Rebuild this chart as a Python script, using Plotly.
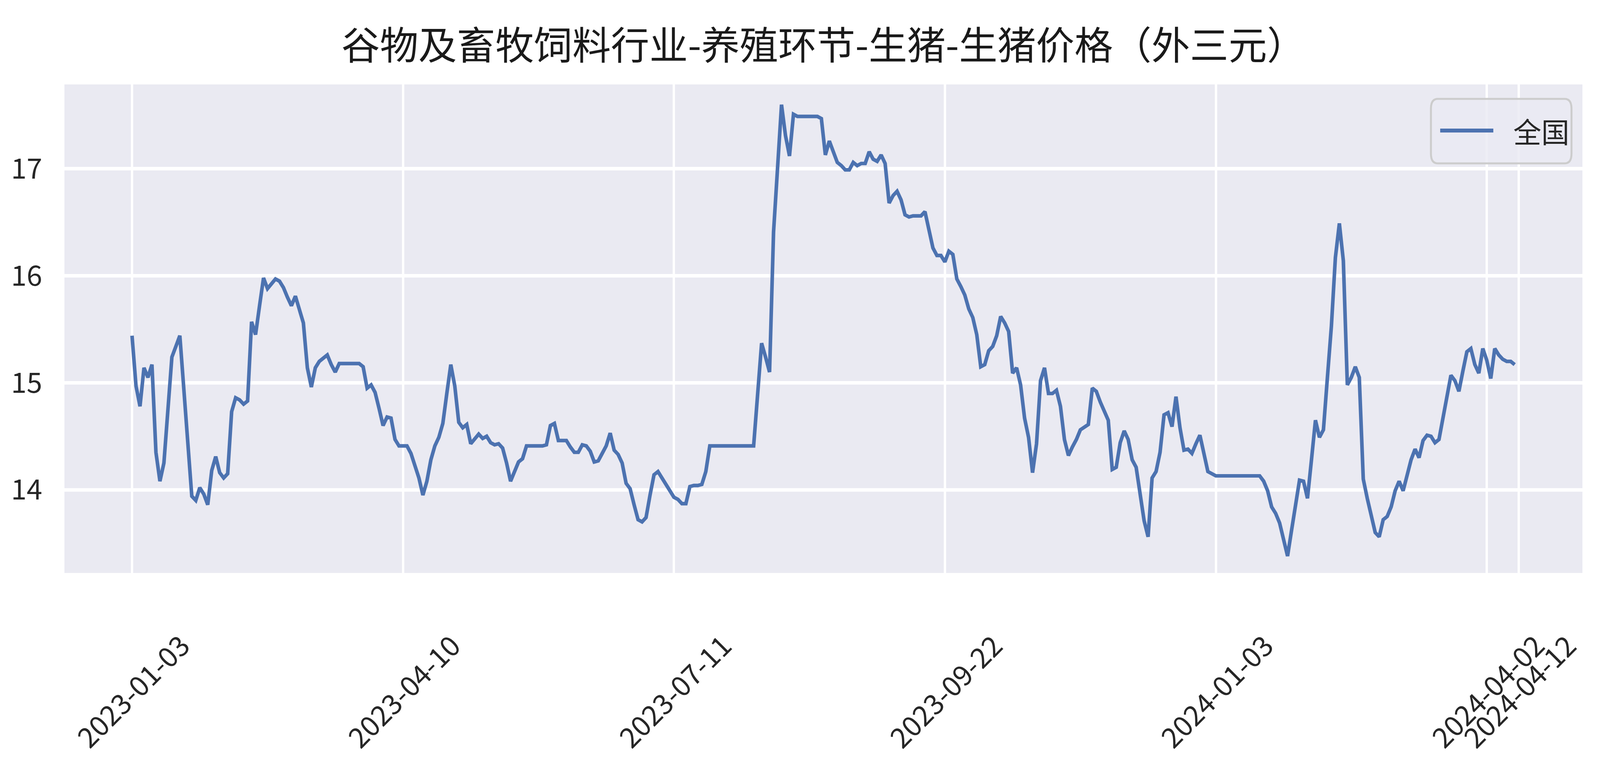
import plotly.graph_objects as go

# 全国 外三元生猪价格（按数据点顺序，从 2023-01-03 到 2024-04-12）
PRICES = [
    15.44, 14.97, 14.78, 15.14, 15.05, 15.17, 14.35, 14.08, 14.25, 14.70,
    15.24, 15.34, 15.44, 14.94, 14.43, 13.94, 13.90, 14.02, 13.96, 13.86,
    14.18, 14.31, 14.16, 14.11, 14.15, 14.73, 14.86, 14.84, 14.80, 14.83,
    15.57, 15.45, 15.72, 15.98, 15.88, 15.92, 15.97, 15.95, 15.89, 15.80,
    15.72, 15.81, 15.69, 15.56, 15.14, 14.96, 15.14, 15.20, 15.23, 15.26,
    15.17, 15.10, 15.18, 15.18, 15.18, 15.18, 15.18, 15.18, 15.15, 14.95,
    14.98, 14.91, 14.76, 14.60, 14.68, 14.67, 14.47, 14.41, 14.41, 14.41,
    14.34, 14.23, 14.11, 13.95, 14.08, 14.28, 14.41, 14.49, 14.62, 14.90,
    15.17, 14.97, 14.63, 14.58, 14.61, 14.43, 14.47, 14.52, 14.48, 14.50,
    14.44, 14.42, 14.43, 14.39, 14.25, 14.08, 14.17, 14.26, 14.29, 14.41,
    14.41, 14.41, 14.41, 14.41, 14.42, 14.60, 14.62, 14.46, 14.46, 14.46,
    14.40, 14.35, 14.35, 14.42, 14.41, 14.36, 14.26, 14.27, 14.34, 14.41,
    14.53, 14.37, 14.33, 14.25, 14.06, 14.01, 13.86, 13.72, 13.70, 13.74,
    13.95, 14.14, 14.17, 14.11, 14.05, 13.99, 13.93, 13.91, 13.87, 13.87,
    14.03, 14.04, 14.04, 14.05, 14.17, 14.41, 14.41, 14.41, 14.41, 14.41,
    14.41, 14.41, 14.41, 14.41, 14.41, 14.41, 14.41, 14.89, 15.37, 15.24,
    15.10, 16.41, 17.00, 17.60, 17.31, 17.12, 17.51, 17.49, 17.49, 17.49,
    17.49, 17.49, 17.49, 17.47, 17.13, 17.26, 17.16, 17.06, 17.03, 16.99,
    16.99, 17.06, 17.03, 17.05, 17.05, 17.16, 17.09, 17.07, 17.13, 17.05,
    16.68, 16.75, 16.79, 16.71, 16.57, 16.55, 16.56, 16.56, 16.56, 16.60,
    16.43, 16.26, 16.19, 16.19, 16.13, 16.23, 16.20, 15.97, 15.90, 15.82,
    15.69, 15.61, 15.45, 15.15, 15.17, 15.30, 15.34, 15.44, 15.62, 15.56,
    15.48, 15.09, 15.14, 14.98, 14.67, 14.49, 14.16, 14.43, 15.02, 15.14,
    14.90, 14.90, 14.93, 14.78, 14.47, 14.32, 14.40, 14.47, 14.56, 14.59,
    14.61, 14.95, 14.92, 14.82, 14.73, 14.65, 14.19, 14.21, 14.44, 14.55,
    14.47, 14.28, 14.21, 13.98, 13.71, 13.56, 14.11, 14.17, 14.35, 14.70,
    14.72, 14.59, 14.87, 14.58, 14.37, 14.38, 14.34, 14.43, 14.51, 14.34,
    14.17, 14.15, 14.13, 14.13, 14.13, 14.13, 14.13, 14.13, 14.13, 14.13,
    14.13, 14.13, 14.13, 14.13, 14.08, 13.99, 13.84, 13.78, 13.69, 13.53,
    13.38, 13.62, 13.86, 14.09, 14.08, 13.92, 14.28, 14.65, 14.49, 14.56,
    15.05, 15.53, 16.17, 16.49, 16.14, 14.98, 15.05, 15.15, 15.05, 14.10,
    13.92, 13.75, 13.60, 13.56, 13.72, 13.75, 13.84, 13.99, 14.08, 13.99,
    14.13, 14.28, 14.38, 14.30, 14.46, 14.51, 14.50, 14.44, 14.47, 14.67,
    14.86, 15.07, 15.02, 14.92, 15.11, 15.29, 15.32, 15.17, 15.09, 15.32,
    15.21, 15.04, 15.32, 15.26, 15.22, 15.20, 15.20, 15.17,
]

# 横轴刻度：数据点序号 -> 日期标签（最后一个刻度落在 len(PRICES) 处）
TICK_POS = [0, 68, 136, 204, 272, 340, 348]
TICK_LABELS = ['2023-01-03', '2023-04-10', '2023-07-11', '2023-09-22',
               '2024-01-03', '2024-04-02', '2024-04-12']
Y_TICKS = [14, 15, 16, 17]

SERIES_NAME = '全国'
TITLE = '谷物及畜牧饲料行业-养殖环节-生猪-生猪价格（外三元）'

FONT = 'Noto Sans CJK SC'
LINE_COLOR = '#4c72b0'
BG = '#eaeaf2'
TEXT_COLOR = '#262626'

# 页面打开后按窗口实际大小缩放整张图（窗口若比 5870x1988 小也能完整显示）
FIT_JS = """
(function(){
  var gd = document.getElementById('chart');
  document.documentElement.style.overflow = 'hidden';
  document.body.style.margin = '0';
  document.body.style.overflow = 'hidden';
  var W = document.documentElement.clientWidth || window.innerWidth;
  var H = document.documentElement.clientHeight || window.innerHeight;
  if (!W || !H) return;
  var L = gd.layout;
  var sx = W / L.width, sy = H / L.height, sf = Math.sqrt(sx * sy);
  if (Math.abs(sx - 1) < 1e-3 && Math.abs(sy - 1) < 1e-3) return;
  gd.style.width = W + 'px';
  gd.style.height = H + 'px';
  var anns = (L.annotations || []).map(function(a){
    var b = JSON.parse(JSON.stringify(a)); b.font.size = b.font.size * sf; return b;
  });
  var shapes = (L.shapes || []).map(function(s){
    var t = JSON.parse(JSON.stringify(s)); t.line.width = t.line.width * sf; return t;
  });
  Plotly.restyle(gd, {'line.width': gd.data[0].line.width * sf});
  Plotly.relayout(gd, {
    width: W, height: H,
    'margin.l': L.margin.l * sx, 'margin.r': L.margin.r * sx,
    'margin.t': L.margin.t * sy, 'margin.b': L.margin.b * sy,
    'title.font.size': L.title.font.size * sf,
    'yaxis.tickfont.size': L.yaxis.tickfont.size * sf,
    'yaxis.ticklabelstandoff': Math.round(L.yaxis.ticklabelstandoff * sx),
    'xaxis.gridwidth': L.xaxis.gridwidth * sx,
    'yaxis.gridwidth': L.yaxis.gridwidth * sy,
    annotations: anns,
    shapes: shapes
  });
})();
"""


def rounded_rect(x0, y0, x1, y1, rx, ry):
    # 圆角矩形路径（paper 坐标）
    return (f'M{x0 + rx},{y1} L{x1 - rx},{y1} Q{x1},{y1} {x1},{y1 - ry} '
            f'L{x1},{y0 + ry} Q{x1},{y0} {x1 - rx},{y0} '
            f'L{x0 + rx},{y0} Q{x0},{y0} {x0},{y0 + ry} '
            f'L{x0},{y1 - ry} Q{x0},{y1} {x0 + rx},{y1} Z')


fig = go.Figure()

fig.add_trace(go.Scatter(
    x=list(range(len(PRICES))),
    y=PRICES,
    mode='lines',
    line=dict(color=LINE_COLOR, width=11),
    name=SERIES_NAME,
    showlegend=False,
    hoverinfo='x+y'
))

# 旋转的日期标签（居中对齐到刻度）
for pos, lab in zip(TICK_POS, TICK_LABELS):
    fig.add_annotation(
        x=pos, y=-0.24, xref='x', yref='paper',
        text=lab, showarrow=False, textangle=-45,
        xanchor='center', yanchor='middle',
        font=dict(family=FONT, size=86, color=TEXT_COLOR)
    )

# 图例（右上角）
fig.add_shape(
    type='path', xref='paper', yref='paper',
    path=rounded_rect(0.9002, 0.8384, 0.9928, 0.9704, 0.0045, 0.02),
    fillcolor='rgba(234,234,242,0.8)',
    line=dict(color='#cccccc', width=6),
    layer='above'
)
fig.add_shape(
    type='line', xref='paper', yref='paper',
    x0=0.9063, x1=0.9413, y0=0.9056, y1=0.9056,
    line=dict(color=LINE_COLOR, width=12),
    layer='above'
)
fig.add_annotation(
    x=0.9540, y=0.9056, xref='paper', yref='paper',
    text=SERIES_NAME, showarrow=False,
    xanchor='left', yanchor='middle',
    font=dict(family=FONT, size=86, color=TEXT_COLOR)
)

fig.update_layout(
    width=5870,
    height=1988,
    autosize=False,
    margin=dict(l=236, r=64, t=216, b=522),
    paper_bgcolor='white',
    plot_bgcolor=BG,
    font=dict(family=FONT, color=TEXT_COLOR),
    title=dict(
        text=TITLE, x=0.5, xref='paper', xanchor='center',
        y=1 - 118 / 1988, yref='container', yanchor='middle',
        font=dict(family=FONT, size=118, color='#1a1a1a')
    ),
    xaxis=dict(
        range=[-16.96, 364.0],
        tickmode='array', tickvals=TICK_POS,
        showticklabels=False, ticks='',
        showgrid=True, gridcolor='white', gridwidth=9,
        zeroline=False, showline=False
    ),
    yaxis=dict(
        range=[13.222, 17.789],
        tickmode='array', tickvals=Y_TICKS,
        ticks='', ticklabelstandoff=80,
        tickfont=dict(family=FONT, size=86, color=TEXT_COLOR),
        showgrid=True, gridcolor='white', gridwidth=9,
        zeroline=False, showline=False
    ),
)

fig.write_html('out.html', div_id='chart', post_script=FIT_JS,
               config={'displayModeBar': False})
